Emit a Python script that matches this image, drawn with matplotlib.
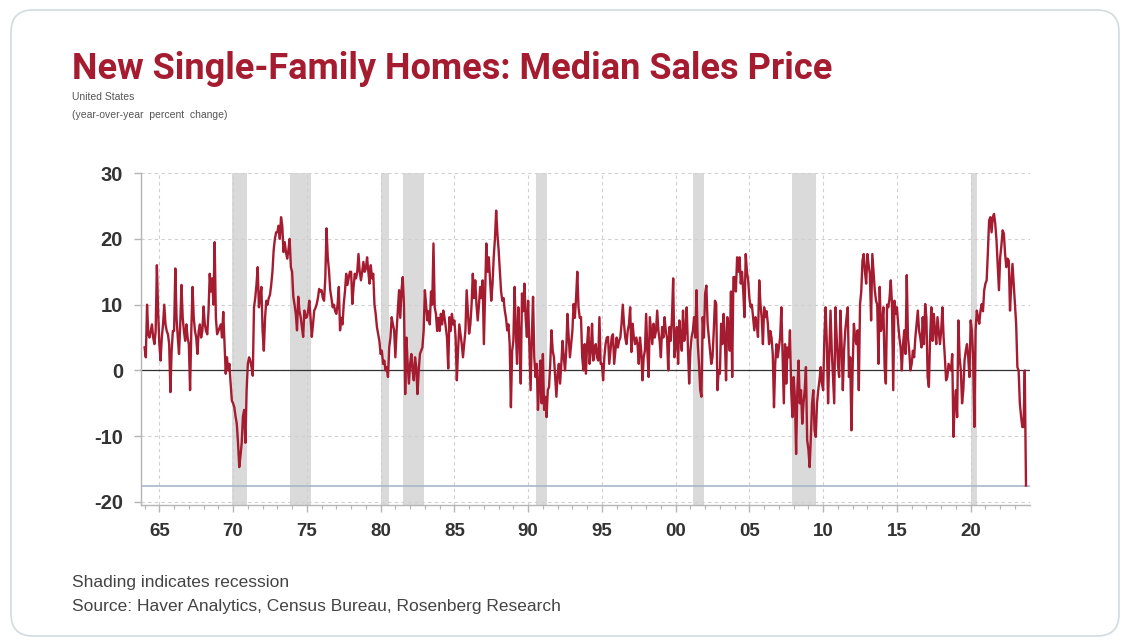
import matplotlib
matplotlib.use("Agg")
import matplotlib.pyplot as plt
from matplotlib.patches import FancyBboxPatch
import numpy as np

# New single-family homes, median sales price, YoY % change (monthly)
yoy_1960s = [  # 1964-1969
    3.5, 2, 10, 5.5, 5, 6, 7, 5, 4, 6, 16, 9,
    4, 1.5, 5, 7, 10, 7, 6, 5.5, 4, -3.3, 3, 6,
    6, 15.5, 8, 5, 2.5, 7, 13, 8, 6, 4.5, 7, 5,
    4, -3, 6, 12.7, 8, 6, 5, 2.5, 6, 7, 5, 6,
    9.7, 7, 6, 5.5, 9, 14.7, 12, 14, 10, 19.5, 8, 5.5,
    6, 6.5, 7, 5, 8.9, 4, -0.5, 2, 0, 1, -2, -4.6,
]
yoy_1970s = [
    -5, -5.6, -7, -8.1, -11, -14.7, -13, -11, -7, -6, -11, -3,
    1, 2, 1.5, 0.5, -0.8, 9.6, 11, 13, 15.7, 9.6, 11, 12.7,
    6, 3, 8, 10.6, 10, 11, 11.5, 13, 15, 18.3, 20, 21,
    21, 22, 20, 23.3, 22, 18, 19.5, 18, 17, 18.3, 20, 15.7,
    15, 11.2, 10, 8.6, 6.1, 11.2, 9, 8.1, 6.5, 5.1, 9.1, 8,
    8.1, 9, 10.6, 8, 5.1, 7, 9.1, 9.5, 10.1, 11, 12.4, 12,
    12.2, 11, 10.6, 14, 21.6, 17.2, 15.2, 12.2, 11, 9.6, 10, 9,
    8.6, 10, 12.7, 6.1, 8, 7, 10.1, 12, 14.7, 13, 14, 15,
    15, 10.1, 12.7, 14.7, 14, 15, 17.7, 15, 13.7, 15, 16.5, 15,
    15.5, 17.2, 15, 13.2, 16, 14, 14.7, 10, 8.6, 6.6, 5.5, 4.5,
]
yoy_1980s = [
    2.5, 3, 1, 1.5, 0, 0.5, -1, 3.5, 5, 8.1, 7, 6.1,
    2, 6, 9, 12.2, 8, 12.2, 14.2, 10, -3.6, 5, 1, -2,
    1, 2.5, 0, -1.5, 2, 0.5, -3.6, 0, 2.5, 3, 3.5, 6,
    12.2, 10, 7.6, 9, 7, 12, 10, 19.3, 9.6, 8.6, 6, 8,
    6, 8.6, 7, 9.1, 8, 6.6, 5, 0.3, 8.1, 6, 8.6, 7,
    7.6, 5, -1.5, 3, 7, 5.5, 4, 2, 4, 6.1, 12.2, 9,
    5.6, 7, 10, 14.7, 11, 13.7, 10, 7.6, 10, 12.7, 11, 13.7,
    4, 12, 19.3, 15, 17.2, 14, 10.6, 13, 17.2, 20, 24.3, 20.8,
    18.3, 15.2, 12, 10.6, 11, 9.1, 8, 6.1, 7, 4, -5.6, 3,
    4.5, 12.7, 6, 1, 9.6, 5, -2, 11.7, 9, 13.2, 8, 5.1,
]
yoy_1990s = [
    10.6, 4, -3, 5, 11.2, 2, -1, 1, -6, -2, 1.5, -5,
    2.5, -6, -4, -7.1, -3, -2.5, 1, 6.1, 3, 2, -1, -4,
    -0.5, 1, -2, 1, 4.5, 2, 0, 3, 8.6, 5, 2, 4,
    6, 10.1, 8, 11, 15, 9.6, 8, 8.1, 2, 0, 4, -0.5,
    4, 6.6, 1, 3, 7.1, 1.5, 3, 4, 2, 1.5, 8.1, 1,
    1, -1.5, 2, 4, 5, 5.1, 1, 3, 5.1, 5.5, 1, 3,
    5, 3.5, 4.5, 5, 7.1, 10, 7.1, 5, 4, 6, 7, 9.6,
    2.8, 7.1, 5, 4, 5, 4, 1, 5, 3, -1.5, 2, 3,
    8.6, 3, -1, 8.1, 6, 4, 7.1, 5, 6, 9.1, 6, 4.5,
    2, 6.6, 5, 8.1, 6, 5, 0, 6.6, 4.5, 8, 14, 2,
]
yoy_2000s = [
    4, 6.6, 1, 7.6, 5, 3, 9.1, 4.5, 6, 9.6, 3.5, -2,
    3, 5.1, 6, 8.1, 5, 12.2, 4, 1, -3, -4, 8.1, 5,
    11.7, 12.9, 7.1, 5, 3, 1, 2, 6, 10.6, 10.1, -3, 0,
    -0.5, 7.1, 4, 8.6, 5, -1.5, 8.1, 7.1, 3, 12, -1, 14.2,
    14.2, 12, 17.2, 15, 17.2, 13.2, 15, 12, 8.1, 17.7, 15, 13.7,
    11, 9.6, 10, 8.1, 6.1, 8.1, 7, 5.1, 13.7, 10.1, 8, 4,
    9.6, 8.1, 9, 7.1, 4, 6, 5, 2.5, -5.6, 1, 4, 2,
    3.5, 5, 9.6, 2, -5, 4, -2, 3.5, 2, 6.1, -3, -7.1,
    -1, -4, -12.7, -3, 1.5, -5, -3, -8.1, -5, -3, 0.5, -10.6,
    -12, -14.7, -10.1, -5, -3, -9.1, -10.1, -5, -3, -1.5, 0.5, -2,
]
yoy_2010s = [
    -3, 5.1, 9.6, 4, -5, 2.5, 9.1, 3, -1, -5, 9.6, 5,
    1, -1, 9.1, 4, -3, 3, 6.1, 8, 9.6, -1, 2, -9.1,
    0.5, 7.1, 5, 4, 6.1, -3, 10.1, 12, 16.7, 17.7, 15, 13.2,
    17.7, 16, 14.7, 7.6, 17.7, 15, 12.2, 10.6, 10, 1, 12.7, 6,
    7, 9.6, 0.5, -2, 10, 9.6, 11, 13.7, 10, -3, 10.6, 8.6,
    9.6, 7.1, 5, 3.5, 0, 4, 6.1, 2.5, 14.5, 5, 3, 0,
    1, 3, 2, 5, 7.1, 9.1, 6.1, 5, 3.5, 8.1, 4, 10.1,
    8, -1, -2.5, 5, 9.6, 4.5, 8.6, 6, 4, 8.1, 6.1, 4,
    6, 9.6, 5, 2, -1.5, -1, 1, 0.5, 0, 2.5, -10.1, -5,
    -3, -7.1, 7.6, 2, 0, -5, -3, 1.5, 3, 4, 2, -1,
]
yoy_2020s = [  # through Oct 2023
    7.6, 6, 2, -8.6, 6.1, 9.1, 8, 7.1, 9.1, 10.1, 9, 12.2,
    13.2, 13.7, 18, 22.8, 23.3, 21, 23.3, 23.8, 22.3, 19.8, 16, 12.2,
    17.2, 19, 21.3, 20.8, 17.7, 15.7, 17, 16.7, 9.1, 13, 16.2, 13.2,
    10, 7.1, 0.5, 0, -5, -7, -8.6, -8.6, 0, -17.5,
]
start_year = 1964
latest_value = -17.6

# NBER recessions (decimal years)
rec_start = [1969.92, 1973.83, 1980.0, 1981.5, 1990.5, 2001.17, 2007.92, 2020.05]
rec_end = [1970.92, 1975.25, 1980.58, 1982.92, 1991.25, 2001.92, 2009.5, 2020.4]

year_ticks = list(range(1965, 2021, 5))
year_labels = [f"{y % 100:02d}" for y in year_ticks]
y_ticks = [-20, -10, 0, 10, 20, 30]

values = np.array(yoy_1960s + yoy_1970s + yoy_1980s + yoy_1990s + yoy_2000s + yoy_2010s + yoy_2020s)
dates = start_year + np.arange(len(values)) / 12.0

RED = "#a51c30"
TXT = "#333333"
SANS = ["Liberation Sans", "DejaVu Sans"]

fig = plt.figure(figsize=(11.32, 6.4), dpi=100)

# tweet-card style rounded frame (behind everything)
card = FancyBboxPatch((0.11, 0.04), 11.08, 6.26, boxstyle="round,pad=0,rounding_size=0.22",
                      transform=fig.dpi_scale_trans, facecolor="none", edgecolor="#d3dbe0",
                      linewidth=1.2, zorder=-5)
fig.patches.append(card)

ax = fig.add_axes([0.1246, 0.2105, 0.7854, 0.519])
ax.set_facecolor("none")

for s, e in zip(rec_start, rec_end):
    ax.axvspan(s, e, color="#dadada", lw=0, zorder=0)

ax.plot(dates, values, color=RED, lw=1.7, zorder=3)
ax.axhline(0, color="#333333", lw=0.9, zorder=2)
ax.axhline(latest_value, color="#a8b6cb", lw=1.2, zorder=2)

ax.set_xlim(1963.76, 2024.03)
ax.set_ylim(-20.5, 30)

ax.set_yticks(y_ticks)
ax.set_yticklabels([str(v) for v in y_ticks])
ax.set_xticks(year_ticks)
ax.set_xticklabels(year_labels)
ax.set_xticks(range(1964, 2024), minor=True)

ax.grid(True, which="major", color="#cfcfcf", lw=0.8, ls=(0, (3, 3)), zorder=1)
for side in ["top", "right"]:
    ax.spines[side].set_visible(False)
for side in ["left", "bottom"]:
    ax.spines[side].set_color("#b5b5b5")
    ax.spines[side].set_linewidth(1.0)

ax.tick_params(axis="both", which="major", colors="#b5b5b5", length=5, width=1,
               labelcolor=TXT, labelsize=14.5, pad=8)
ax.tick_params(axis="x", which="major", labelsize=13.5)
ax.tick_params(axis="x", which="minor", colors="#b5b5b5", length=3, width=0.8)
for lab in ax.get_xticklabels() + ax.get_yticklabels():
    lab.set_fontweight("bold")
    lab.set_family(SANS)

# titles
fig.text(72 / 1132, 1 - 79 / 640, "New Single-Family Homes: Median Sales Price",
         color=RED, fontsize=26, fontweight="bold", va="baseline", ha="left",
         family=["Roboto", "DejaVu Sans"])
fig.text(72 / 1132, 1 - 97 / 640, "United States", color="#555555", fontsize=7.5,
         va="center", ha="left", family=SANS)
fig.text(72 / 1132, 1 - 115 / 640, "(year-over-year  percent  change)", color="#555555", fontsize=7.5,
         va="center", ha="left", family=SANS)

# footer
fig.text(72 / 1132, 1 - 583 / 640, "Shading indicates recession", color="#444444", fontsize=12.5,
         va="center", ha="left", family=SANS)
fig.text(72 / 1132, 1 - 606 / 640, "Source: Haver Analytics, Census Bureau, Rosenberg Research",
         color="#444444", fontsize=12.5, va="center", ha="left", family=SANS)

fig.savefig("out.png", dpi=100)
